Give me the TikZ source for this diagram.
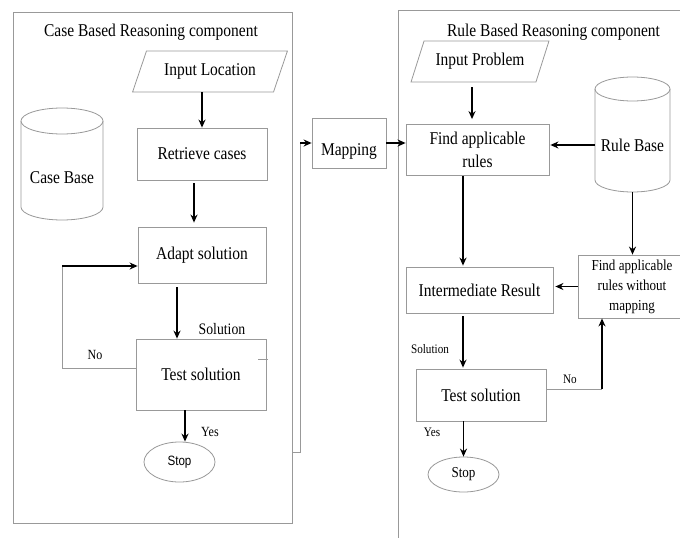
\documentclass[tikz,border=0pt]{standalone}
\usepackage{fontspec}
\setmainfont{Liberation Serif}[FakeStretch=0.86]
\newfontfamily\arialf{Liberation Sans}[FakeStretch=0.86]
\usetikzlibrary{shapes.geometric,arrows.meta,calc}
\tikzset{
  box/.style={draw=black!40, line width=0.8pt},
  txt/.style={font=\fontsize{18}{22}\selectfont},
  small/.style={font=\fontsize{14}{16}\selectfont},
  smaller/.style={font=\fontsize{13}{15}\selectfont},
  procbox/.style={box, txt, rectangle, inner sep=2pt, align=center},
  iobox/.style={box, txt, trapezium, trapezium left angle=60, trapezium right angle=120, trapezium stretches=true, inner sep=1pt},
  stopbox/.style={box, ellipse, inner sep=1pt},
  arr/.style={line width=1.3pt, -{Stealth[length=8pt,width=7pt]}},
  thin/.style={draw=black!40, line width=0.8pt}
}
\begin{document}
\begin{tikzpicture}[x=1pt,y=-1pt]
\useasboundingbox (0,0) rectangle (680,538);
\clip (0,0) rectangle (680,538);
\fill[white] (0,0) rectangle (680,538);
% containers
\node[box, minimum width=279pt, minimum height=511pt] (cbrbox) at (152.5,267.5) {};
\node[box, minimum width=292pt, minimum height=535pt] (rbrbox) at (544,277.5) {};
\node[txt] (cbrtitle) at (151,32) {Case Based Reasoning component};
\node[txt] (rbrtitle) at (553.5,32) {Rule Based Reasoning component};
% ---- left side
\node[iobox, minimum width=155pt, minimum height=41pt] (inloc) at (210,71.5) {Input Location};
\node[procbox, minimum width=130pt, minimum height=52pt] (ret) at (202,154) {Retrieve cases};
\node[procbox, minimum width=128pt, minimum height=56pt] (adapt) at (202,255) {Adapt solution};
\node[procbox, minimum width=130pt, minimum height=71pt] (tsL) at (201,374.5) {Test solution};
\node[stopbox, minimum width=71pt, minimum height=40pt, font=\arialf\fontsize{13.5}{15}\selectfont] (stopL) at (179.5,462) {Stop};
% case base cylinder
\draw[box] (21,121) -- (21,207) arc[start angle=180, end angle=0, x radius=41, y radius=13] -- (103,121);
\draw[box] (62,121) ellipse [x radius=41, y radius=13];
\node[txt] (cb) at (62,178) {Case Base};
% left arrows
\draw[arr] (inloc.south -| ret.north) -- (ret.north);
\draw[arr, shorten <=3pt, shorten >=4pt] ([xshift=-8pt]ret.south) -- ([xshift=-8pt]ret.south |- adapt.north);
\draw[arr, shorten <=4pt] ([xshift=-25pt]adapt.south) -- ([xshift=-25pt]adapt.south |- tsL.north);
\coordinate (loopA) at (62,368);
\coordinate (loopB) at (62,266);
\draw[thin] (loopA -| tsL.west) -- (loopA) -- (loopB);
\draw[arr] (loopB) -- (loopB -| adapt.west);
\draw[arr] ([xshift=-16pt]tsL.south) -- ([xshift=-16pt]tsL.south |- stopL.north);
\draw[thin] (258,359) -- (268,359);
\node[font=\fontsize{16}{18}\selectfont] (solL) at (222,329) {Solution};
\node[small] (noL) at (95,355) {No};
\node[small] (yesL) at (210,432) {Yes};
% ---- connection to mapping
\node[box, minimum width=74pt, minimum height=50pt] (map) at (349,143) {};
\node[txt] (maptxt) at (349,151) {Mapping};
\coordinate (c1) at (300,452);
\draw[thin] (cbrbox.east |- c1) -- (c1) -- (c1 |- map.west);
\draw[arr] (c1 |- map.west) -- (map.west);
% ---- right side
\node[iobox, minimum width=138pt, minimum height=41pt] (inprob) at (480,61.5) {Input Problem};
\node[procbox, minimum width=143pt, minimum height=51pt, font=\fontsize{18}{23}\selectfont] (find) at (477.5,150) {Find applicable\\rules};
\draw[box] (595,89) -- (595,180) arc[start angle=180, end angle=0, x radius=37.5, y radius=12] -- (670,89);
\draw[box] (632.5,89) ellipse [x radius=37.5, y radius=12];
\node[txt, minimum width=75pt, minimum height=94pt, inner sep=0pt] (rb) at (632.5,145) {Rule Base};
\node[procbox, minimum width=147pt, minimum height=46pt] (inter) at (479.5,290) {Intermediate Result};
\node[procbox, minimum width=108pt, minimum height=63pt, font=\fontsize{15.2}{20}\selectfont] (nomap) at (632,286.5) {Find applicable\\rules without\\mapping};
\node[procbox, minimum width=130pt, minimum height=52pt] (tsR) at (481,395) {Test solution};
\node[stopbox, minimum width=71pt, minimum height=35pt, font=\fontsize{15.2}{17}\selectfont] (stopR) at (463.5,474.5) {Stop};
% right arrows
\draw[arr] (map.east) -- (map.east -| find.west);
\draw[arr, shorten <=5pt, shorten >=5pt] ([xshift=-8pt]inprob.south) -- ([xshift=-8pt]inprob.south |- find.north);
\draw[arr, shorten >=1pt] (rb.west) -- (rb.west -| find.east);
\draw[arr] (rb.south) -- (rb.south |- nomap.north);
\draw[arr, shorten >=1pt] ([xshift=-14.5pt]find.south) -- ([xshift=-14.5pt]find.south |- inter.north);
\draw[arr, shorten >=2pt] (nomap.west) -- (nomap.west -| inter.east);
\draw[arr, shorten <=3pt, shorten >=1pt] ([xshift=-16.5pt]inter.south) -- ([xshift=-16.5pt]inter.south |- tsR.north);
\coordinate (n1) at (602,389);
\draw[thin] (n1 -| tsR.east) -- (n1);
\draw[arr] (n1) -- (n1 |- nomap.south);
\draw[arr] (tsR.south -| stopR.north) -- (stopR.north);
\node[smaller] (solR) at (430,349) {Solution};
\node[smaller] (noR) at (570,379) {No};
\node[smaller] (yesR) at (432,432) {Yes};
\end{tikzpicture}
\end{document}
